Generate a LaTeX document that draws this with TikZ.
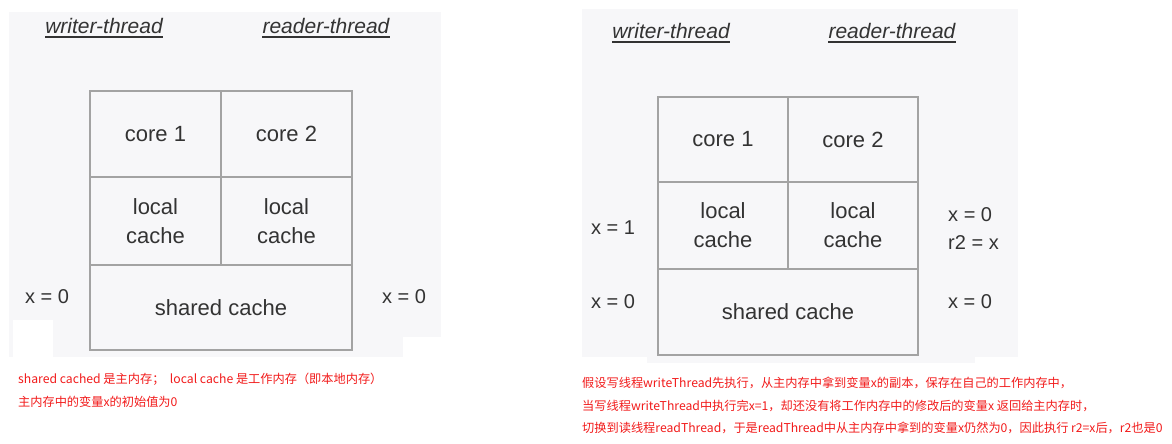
\documentclass[tikz,border=0pt]{standalone}
\usepackage{fontspec}
\setmainfont{Liberation Sans}
\newfontfamily\cjkfont{Noto Sans CJK SC}
\definecolor{panelgray}{HTML}{F7F7F9}
\definecolor{linegray}{HTML}{A3A3A3}
\definecolor{txtgray}{HTML}{333333}
\definecolor{notered}{HTML}{F21B1B}
\begin{document}
\begin{tikzpicture}[x=1pt,y=-1pt,
  cell/.style={draw=linegray, line width=1.5pt, inner sep=0pt, outer sep=0pt,
    text=txtgray, align=center, font=\fontsize{22}{29}\selectfont},
  lbl/.style={text=txtgray, inner sep=0pt, font=\fontsize{20}{28}\selectfont},
  head/.style={text=txtgray, inner sep=0pt, anchor=base, font=\fontsize{21}{24}\selectfont\itshape},
  uline/.style={draw=txtgray, line width=1.6pt},
  note/.style={text=notered, inner sep=0pt, anchor=west, font=\cjkfont\fontsize{12.2}{14}\selectfont}]
\useasboundingbox (0,0) rectangle (1172,444);
\fill[white] (0,0) rectangle (1172,444);
% ---------- left panel background ----------
\fill[panelgray] (9,12) rectangle (441,337);
\fill[panelgray] (9,337) rectangle (403,357);
\fill[white] (13,320) rectangle (53,358);
% ---------- right panel background ----------
\fill[panelgray] (582,9) rectangle (1018,357);
\fill[panelgray] (647,357) rectangle (975,363);

% ---------- left panel ----------
\node[head] (lw) at (104,34) {writer-thread};
\node[head] (lr) at (326,34) {reader-thread};
\draw[uline] ([yshift=-3pt]lw.base west) -- ([yshift=-3pt]lw.base east);
\draw[uline] ([yshift=-3pt]lr.base west) -- ([yshift=-3pt]lr.base east);

\node[cell, minimum width=131pt, minimum height=86pt] (lc1) at (155.5,134) {core 1};
\node[cell, minimum width=131pt, minimum height=86pt] (lc2) at (286.5,134) {core 2};
\node[cell, minimum width=131pt, minimum height=88pt] (ll1) at (155.5,221) {local\\cache};
\node[cell, minimum width=131pt, minimum height=88pt] (ll2) at (286.5,221) {local\\cache};
\node[cell, minimum width=262pt, minimum height=85pt] (lsh) at (221,307.5) {shared cache};

\node[lbl] (lx0) at (47,297) {x = 0};
\node[lbl] (rx0) at (404,297) {x = 0};

\node[note] (n1) at (18,379) {shared cached 是主内存；\ \ local cache 是工作内存（即本地内存）};
\node[note] (n2) at (18,402) {主内存中的变量x的初始值为0};

% ---------- right panel ----------
\node[head] (rw) at (671,39) {writer-thread};
\node[head] (rr) at (892,39) {reader-thread};
\draw[uline] ([yshift=-3pt]rw.base west) -- ([yshift=-3pt]rw.base east);
\draw[uline] ([yshift=-3pt]rr.base west) -- ([yshift=-3pt]rr.base east);

\node[cell, minimum width=130pt, minimum height=85pt] (rc1) at (723,139.5) {core 1};
\node[cell, minimum width=130pt, minimum height=85pt] (rc2) at (853,139.5) {core 2};
\node[cell, minimum width=130pt, minimum height=87pt] (rl1) at (723,225.5) {local\\cache};
\node[cell, minimum width=130pt, minimum height=87pt] (rl2) at (853,225.5) {local\\cache};
\node[cell, minimum width=260pt, minimum height=86pt] (rsh) at (788,312) {shared cache};

\node[lbl] (wx1) at (613,228) {x = 1};
\node[lbl] (wx0) at (613,302) {x = 0};
\node[lbl, align=left, anchor=west] (rdx) at (948,229) {x = 0\\r2 = x};
\node[lbl] (rdx0) at (970,302) {x = 0};

\node[note] (m1) at (582,383) {假设写线程writeThread先执行，从主内存中拿到变量x的副本，保存在自己的工作内存中，};
\node[note] (m2) at (582,406) {当写线程writeThread中执行完x=1，却还没有将工作内存中的修改后的变量x 返回给主内存时，};
\node[note] (m3) at (582,428) {切换到读线程readThread，于是readThread中从主内存中拿到的变量x仍然为0，因此执行 r2=x后，r2也是0};
\end{tikzpicture}
\end{document}
